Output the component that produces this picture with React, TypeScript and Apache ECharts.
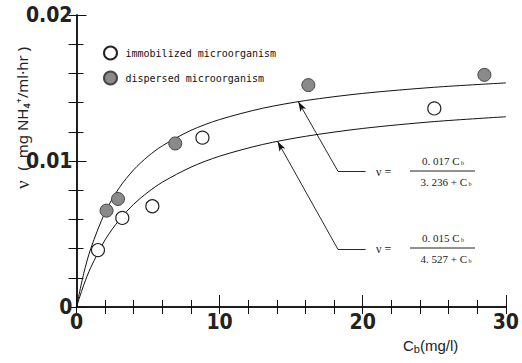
import React, { useEffect, useRef } from "react";
import * as echarts from "echarts";

// Measured points
const immobX = [1.5, 3.2, 5.3, 8.8, 25.0];
const immobY = [0.0039, 0.0061, 0.0069, 0.0116, 0.0136];
const dispX = [2.1, 2.9, 6.9, 16.2, 28.5];
const dispY = [0.0066, 0.0074, 0.0112, 0.0152, 0.0159];

// Fitted curves
const curveX = [0, 0.5, 1, 2, 3, 4, 5, 6, 8, 10, 13, 16, 20, 25, 30];
const upperY = [0, 0.00228, 0.00401, 0.00649, 0.00818, 0.0094, 0.01032, 0.01104, 0.0121, 0.01284, 0.01361, 0.01414, 0.01463, 0.01505, 0.01535];
const lowerY = [0, 0.00149, 0.00271, 0.0046, 0.00598, 0.00704, 0.00787, 0.00855, 0.00958, 0.01033, 0.01113, 0.01169, 0.01223, 0.0127, 0.01303];

// Leader lines (data coords)
const upperLeader = [[15.5, 0.01406], [18.26, 0.00931], [20.2, 0.00931]];
const lowerLeader = [[14.05, 0.01134], [18.26, 0.00396], [20.2, 0.00396]];

const xTicks = [0, 10, 20, 30];
const yTicks = [0, 0.01, 0.02];

const LABEL_FONT = "'DejaVu Sans Condensed', 'Liberation Sans Narrow', sans-serif";
const MONO = "'DejaVu Sans Mono', monospace";
const SERIF = "'Liberation Serif', 'DejaVu Serif', serif";

export default function App() {
  const ref = useRef<HTMLDivElement>(null);
  useEffect(() => {
    if (!ref.current) return;
    const chart = echarts.init(ref.current, undefined, { renderer: "svg" });
    const axisLine = { show: true, lineStyle: { color: "#111", width: 1.5 } };
    const leader = (pts: number[][]) => [
      [
        { coord: pts[0], symbol: "arrow", symbolSize: [5, 10] },
        { coord: pts[1], symbol: "none" },
      ],
      [
        { coord: pts[1], symbol: "none" },
        { coord: pts[2], symbol: "none" },
      ],
    ];
    const eqRich = {
      n: { fontFamily: SERIF, fontSize: 11, fill: "#222" },
      s: { fontFamily: SERIF, fontSize: 6, fill: "#222", padding: [4, 0, 0, 0] },
    };
    chart.setOption({
      animation: false,
      backgroundColor: "#fff",
      grid: { left: 76.5, right: 10, top: 15, bottom: 56 },
      xAxis: [
        {
          type: "value",
          min: 0,
          max: 30,
          interval: 10,
          axisLine,
          axisTick: { show: true, inside: true, length: 12, lineStyle: { color: "#111", width: 1 } },
          minorTick: { show: true, splitNumber: 5, length: 7, lineStyle: { color: "#111", width: 1 } },
          splitLine: { show: false },
          axisLabel: {
            margin: 4,
            fontFamily: LABEL_FONT,
            fontWeight: "bold",
            fontSize: 21,
            color: "#222",
            formatter: (v: number) => (xTicks.includes(v) ? String(v) : ""),
          },
        },
        {
          type: "value",
          position: "top",
          min: 0,
          max: 30,
          interval: 10,
          axisLine,
          axisTick: { show: true, inside: true, length: 7, lineStyle: { color: "#111" } },
          minorTick: { show: true, splitNumber: 5, length: 7, lineStyle: { color: "#111" } },
          splitLine: { show: false },
          axisLabel: { show: false },
        },
      ],
      yAxis: [
        {
          type: "value",
          min: 0,
          max: 0.02,
          interval: 0.01,
          axisLine,
          axisTick: { show: true, inside: true, length: 10, lineStyle: { color: "#111" } },
          minorTick: { show: true, splitNumber: 5, length: 7, lineStyle: { color: "#111" } },
          splitLine: { show: false },
          axisLabel: {
            margin: 4,
            fontFamily: LABEL_FONT,
            fontWeight: "bold",
            fontSize: 21,
            color: "#222",
            formatter: (v: number) => {
              const t = yTicks.find((y) => Math.abs(y - v) < 1e-9);
              return t === undefined ? "" : String(t);
            },
          },
        },
        {
          type: "value",
          position: "right",
          min: 0,
          max: 0.02,
          interval: 0.01,
          axisLine,
          axisTick: { show: true, inside: true, length: 8, lineStyle: { color: "#111" } },
          minorTick: { show: true, splitNumber: 5, length: 8, lineStyle: { color: "#111" } },
          splitLine: { show: false },
          axisLabel: { show: false },
        },
      ],
      legend: {
        orient: "vertical",
        left: 98,
        top: 40.5,
        itemGap: 10,
        itemWidth: 20,
        itemHeight: 13,
        data: ["immobilized microorganism", "dispersed microorganism"],
        textStyle: { fontFamily: MONO, fontSize: 10, color: "#111" },
      },
      series: [
        {
          type: "line",
          name: "upper fit",
          data: curveX.map((x, i) => [x, upperY[i]]),
          smooth: 0.3,
          showSymbol: false,
          lineStyle: { color: "#111", width: 1 },
          silent: true,
          markLine: {
            silent: true,
            lineStyle: { color: "#111", width: 0.9, type: "solid" },
            label: { show: false },
            data: [...leader(upperLeader), ...leader(lowerLeader)],
          },
        },
        {
          type: "line",
          name: "lower fit",
          data: curveX.map((x, i) => [x, lowerY[i]]),
          smooth: 0.3,
          showSymbol: false,
          lineStyle: { color: "#111", width: 1 },
          silent: true,
        },
        {
          type: "scatter",
          name: "immobilized microorganism",
          data: immobX.map((x, i) => [x, immobY[i]]),
          symbol: "circle",
          symbolSize: 13,
          itemStyle: { color: "#fff", borderColor: "#222", borderWidth: 1.2, opacity: 1 },
          z: 5,
        },
        {
          type: "scatter",
          name: "dispersed microorganism",
          data: dispX.map((x, i) => [x, dispY[i]]),
          symbol: "circle",
          symbolSize: 13,
          itemStyle: { color: "#8a8a8a", borderColor: "#444", borderWidth: 1, opacity: 1 },
          z: 5,
        },
      ],
      graphic: [
        {
          type: "text",
          x: 22,
          y: 118,
          rotation: Math.PI / 2,
          style: {
            text: "{v|ν}   {t|(  mg NH₄⁺/ml·hr )}",
            align: "center",
            verticalAlign: "middle",
            rich: {
              v: { fontFamily: SERIF, fontSize: 19, fill: "#222" },
              t: { fontFamily: "'Noto Sans', sans-serif", fontSize: 15, fill: "#222" },
            },
          },
        },
        {
          type: "text",
          x: 403,
          y: 345,
          style: {
            text: "{c|C}{s|b}{c|(mg/l)}",
            align: "left",
            verticalAlign: "middle",
            rich: {
              c: { fontFamily: "'Liberation Sans', sans-serif", fontSize: 15, fill: "#222" },
              s: { fontFamily: "'Liberation Sans', sans-serif", fontSize: 11, fill: "#222", padding: [7, 0, 0, 0] },
            },
          },
        },
        // upper equation
        { type: "text", x: 376, y: 172, style: { text: "ν =", fontFamily: SERIF, fontSize: 12, fill: "#222", verticalAlign: "middle" } },
        { type: "text", x: 443, y: 161, style: { text: "{n|0. 017 C}{s| b}", align: "center", verticalAlign: "middle", rich: eqRich } },
        { type: "line", shape: { x1: 410, y1: 171, x2: 475, y2: 171 }, style: { stroke: "#222", lineWidth: 1 } },
        { type: "text", x: 446, y: 182, style: { text: "{n|3. 236 + C}{s| b}", align: "center", verticalAlign: "middle", rich: eqRich } },
        // lower equation
        { type: "text", x: 376, y: 249, style: { text: "ν =", fontFamily: SERIF, fontSize: 12, fill: "#222", verticalAlign: "middle" } },
        { type: "text", x: 443, y: 238, style: { text: "{n|0. 015 C}{s| b}", align: "center", verticalAlign: "middle", rich: eqRich } },
        { type: "line", shape: { x1: 410, y1: 248, x2: 475, y2: 248 }, style: { stroke: "#222", lineWidth: 1 } },
        { type: "text", x: 446, y: 259, style: { text: "{n|4. 527 + C}{s| b}", align: "center", verticalAlign: "middle", rich: eqRich } },
      ],
    });
    return () => chart.dispose();
  }, []);
  return (
    <div
      ref={ref}
      style={{ position: "absolute", left: 0, top: 0, width: 522, height: 363, background: "#fff" }}
    />
  );
}
